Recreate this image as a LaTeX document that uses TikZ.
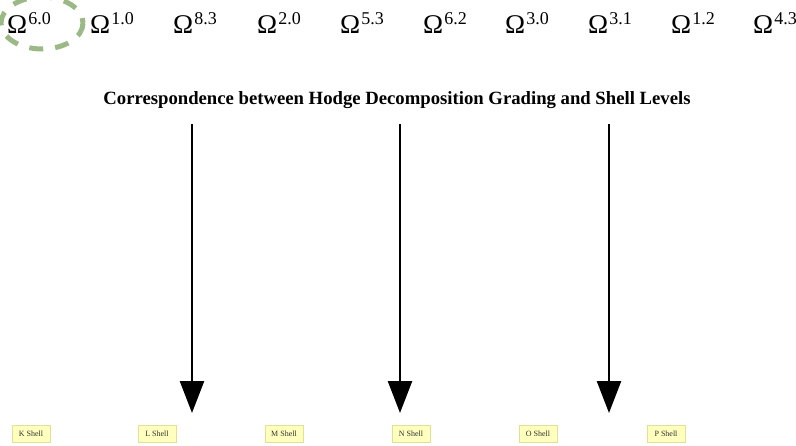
\documentclass[tikz,border=0pt]{standalone}
\usepackage{fontspec}
\setmainfont{Liberation Serif}
\usepackage{tikz}
\usetikzlibrary{arrows.meta,positioning}
\definecolor{leafgreen}{RGB}{155,185,135}
\definecolor{shellfill}{RGB}{255,255,190}
\definecolor{shelldraw}{RGB}{225,225,150}
\newcommand{\grd}[1]{Ω\kern1pt\raisebox{9pt}{\fontsize{18}{20}\selectfont #1}}

\tikzset{
  grade/.style={font=\fontsize{27}{28}\selectfont,anchor=base west,inner sep=0pt},
  shellbox/.style={draw=shelldraw,fill=shellfill,line width=1pt,font=\fontsize{8}{9}\selectfont,
    text=black!80,minimum width=38pt,minimum height=17pt,inner sep=1pt},
}

\begin{document}
\begin{tikzpicture}[x=1pt,y=-1pt,>={Triangle[length=32pt,width=24pt]}]
\useasboundingbox (0,0) rectangle (796,445);
% highlight round the first grade
\draw[leafgreen,line width=5pt,dash pattern=on 14pt off 12pt] (42,23) ellipse (41 and 26);
% grades
\node[grade] (g60) at (7,33) {\grd{6.0}};
\node[grade] (g10) at (90,33) {\grd{1.0}};
\node[grade] (g83) at (173,33) {\grd{8.3}};
\node[grade] (g20) at (257,33) {\grd{2.0}};
\node[grade] (g53) at (340,33) {\grd{5.3}};
\node[grade] (g62) at (423,33) {\grd{6.2}};
\node[grade] (g30) at (505,33) {\grd{3.0}};
\node[grade] (g31) at (588,33) {\grd{3.1}};
\node[grade] (g12) at (671,33) {\grd{1.2}};
\node[grade] (g43) at (753,33) {\grd{4.3}};
\node[font=\fontsize{18.7}{22}\selectfont\bfseries] (title) at (397,100)
  {Correspondence between Hodge Decomposition Grading and Shell Levels};
% arrows
\coordinate (a1) at (192,124);
\coordinate (b1) at (192,413);
\coordinate (a2) at (400,124);
\coordinate (b2) at (400,413);
\coordinate (a3) at (609,124);
\coordinate (b3) at (609,413);
\draw[->,line width=2.5pt] (a1)--(b1);
\draw[->,line width=2.5pt] (a2)--(b2);
\draw[->,line width=2.5pt] (a3)--(b3);
% shells
\node[shellbox] (K) at (31,434) {K Shell};
\node[shellbox] (L) at (157,434) {L Shell};
\node[shellbox] (M) at (284,434) {M Shell};
\node[shellbox] (N) at (411,434) {N Shell};
\node[shellbox] (O) at (538,434) {O Shell};
\node[shellbox] (P) at (666,434) {P Shell};
\end{tikzpicture}
\end{document}
